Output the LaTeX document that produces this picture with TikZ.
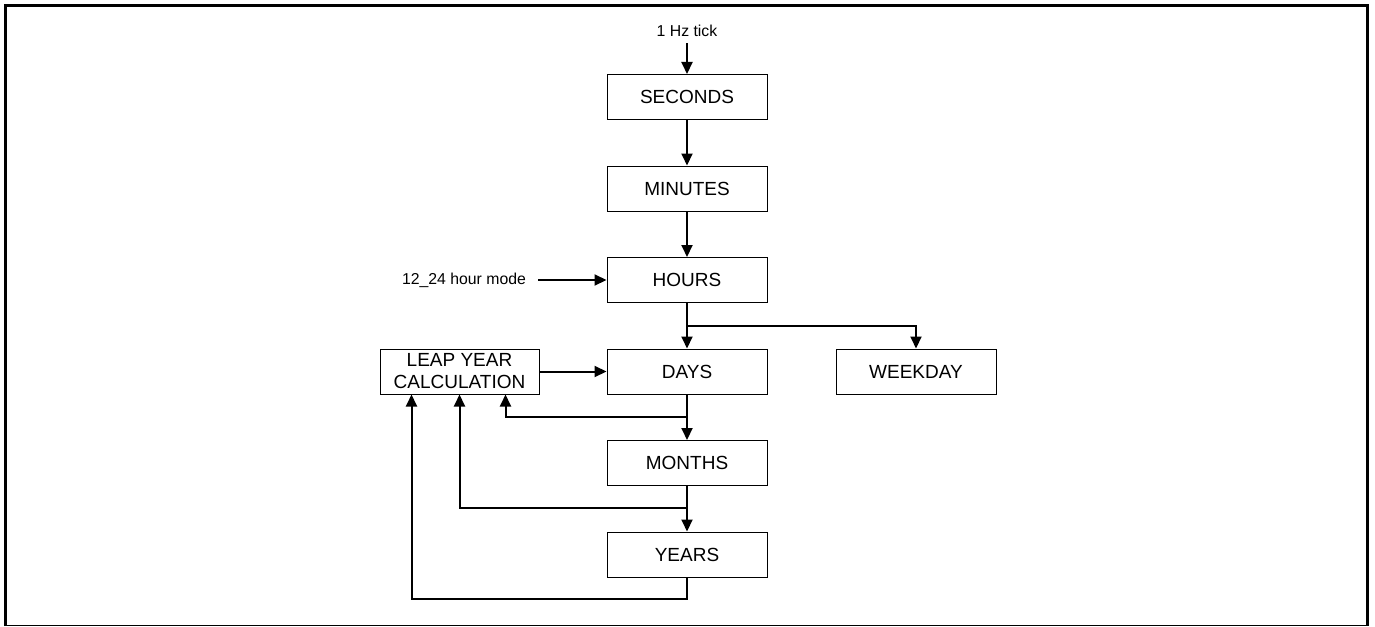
\documentclass[tikz,border=0pt]{standalone}
\usepackage{fontspec}
\setmainfont{Liberation Sans}
\usetikzlibrary{arrows.meta}
\begin{document}
\begin{tikzpicture}[x=1pt,y=-1pt,
  blk/.style={draw,line width=1pt,minimum width=160pt,minimum height=45pt,inner sep=0pt,font=\fontsize{19}{22}\selectfont,align=center},
  lbl/.style={inner sep=0pt,font=\fontsize{15.8}{18}\selectfont},
  arr/.style={line width=2pt,-{Triangle[length=12pt,width=11pt]}},
  wire/.style={line width=2pt}]

\useasboundingbox (0,0) rectangle (1375,626);

\draw[line width=3pt] (5,626) -- (5,6) -- (1367,6) -- (1367,626);
\draw[line width=1pt] (5,625) -- (1367,625);

\node[blk] (sec) at (687,97) {SECONDS};
\node[blk] (min) at (687,188.5) {MINUTES};
\node[blk] (hrs) at (687,280) {HOURS};
\node[blk] (days) at (687,371.5) {DAYS};
\node[blk] (wday) at (916,371.5) {WEEKDAY};
\node[blk] (mon) at (687,463) {MONTHS};
\node[blk] (yrs) at (687,554.5) {YEARS};
\node[blk,minimum width=159pt] (leap) at (459.5,371.5) {LEAP YEAR\\CALCULATION};

\node[lbl,anchor=base] (tick) at (687,37) {1 Hz tick};
\node[lbl] (mode) at (464,280) {12\_24 hour mode};

\coordinate (hsplit) at (687,326);
\coordinate (dsplit) at (687,417);
\coordinate (msplit) at (687,508);
\coordinate (ysplit) at (687,599);

\draw[arr] ([yshift=-6pt]tick.south) -- (sec);
\draw[arr] (sec) -- (min);
\draw[arr] (min) -- (hrs);
\draw[arr] ([xshift=12pt]mode.east) -- (hrs.west);

\draw[arr] (hrs) -- (days);
\draw[arr] (hsplit) -| (wday);
\draw[arr] (leap.east) -- (days.west);

\draw[arr] (days) -- (mon);
\draw[arr] (dsplit) -| ([xshift=-34pt]leap.south east);
\draw[arr] (mon) -- (yrs);
\draw[arr] (msplit) -| (leap.south);
\draw[arr] (yrs.south) -- (ysplit) -| ([xshift=32pt]leap.south west);

\end{tikzpicture}
\end{document}
